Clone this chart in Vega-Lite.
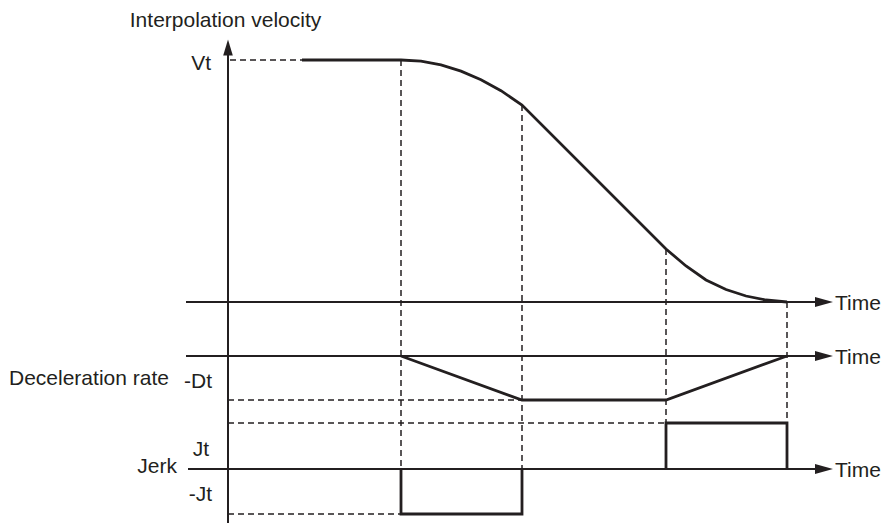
{
  "$schema": "https://vega.github.io/schema/vega-lite/v6.json",
  "width": 881,
  "height": 524,
  "padding": 0,
  "autosize": {"type": "fit", "contains": "padding"},
  "background": "white",
  "config": {"view": {"stroke": null}},
  "datasets": {
    "guides": [
      {"x": 230, "y": 60, "x2": 302, "y2": 60},
      {"x": 401, "y": 60, "x2": 401, "y2": 469},
      {"x": 522, "y": 105, "x2": 522, "y2": 469},
      {"x": 666, "y": 249, "x2": 666, "y2": 423},
      {"x": 787, "y": 302, "x2": 787, "y2": 423},
      {"x": 228, "y": 400, "x2": 522, "y2": 400},
      {"x": 228, "y": 423, "x2": 666, "y2": 423},
      {"x": 228, "y": 514, "x2": 401, "y2": 514}
    ],
    "axes": [
      {"x": 228, "y": 54, "x2": 228, "y2": 523},
      {"x": 186, "y": 302, "x2": 818, "y2": 302},
      {"x": 186, "y": 356, "x2": 818, "y2": 356},
      {"x": 188, "y": 469, "x2": 818, "y2": 469}
    ],
    "curves": [
      {"series": "velocity", "i": 0, "x": 302, "y": 60},
      {"series": "velocity", "i": 1, "x": 401, "y": 60},
      {"series": "velocity", "i": 2, "x": 421, "y": 61.2},
      {"series": "velocity", "i": 3, "x": 441, "y": 64.9},
      {"series": "velocity", "i": 4, "x": 461, "y": 71.1},
      {"series": "velocity", "i": 5, "x": 481, "y": 79.7},
      {"series": "velocity", "i": 6, "x": 501, "y": 90.7},
      {"series": "velocity", "i": 7, "x": 522, "y": 105},
      {"series": "velocity", "i": 8, "x": 666, "y": 249},
      {"series": "velocity", "i": 9, "x": 686, "y": 266},
      {"series": "velocity", "i": 10, "x": 706, "y": 280},
      {"series": "velocity", "i": 11, "x": 726, "y": 289.5},
      {"series": "velocity", "i": 12, "x": 746, "y": 296},
      {"series": "velocity", "i": 13, "x": 766, "y": 300},
      {"series": "velocity", "i": 14, "x": 787, "y": 302},
      {"series": "decel", "i": 0, "x": 401, "y": 356},
      {"series": "decel", "i": 1, "x": 522, "y": 400},
      {"series": "decel", "i": 2, "x": 666, "y": 400},
      {"series": "decel", "i": 3, "x": 787, "y": 356},
      {"series": "jerkNeg", "i": 0, "x": 401, "y": 469},
      {"series": "jerkNeg", "i": 1, "x": 401, "y": 514},
      {"series": "jerkNeg", "i": 2, "x": 522, "y": 514},
      {"series": "jerkNeg", "i": 3, "x": 522, "y": 469},
      {"series": "jerkPos", "i": 0, "x": 666, "y": 469},
      {"series": "jerkPos", "i": 1, "x": 666, "y": 423},
      {"series": "jerkPos", "i": 2, "x": 787, "y": 423},
      {"series": "jerkPos", "i": 3, "x": 787, "y": 469}
    ],
    "arrowsRight": [
      {"x": 824, "y": 302},
      {"x": 824, "y": 356},
      {"x": 824, "y": 469}
    ],
    "arrowsUp": [
      {"x": 228, "y": 47.5}
    ],
    "labelsCenter": [
      {"text": "Interpolation velocity", "x": 225.5, "y": 27}
    ],
    "labelsRight": [
      {"text": "Vt", "x": 211, "y": 70},
      {"text": "-Dt", "x": 212, "y": 388},
      {"text": "Jt", "x": 209, "y": 456},
      {"text": "Jerk", "x": 177, "y": 473},
      {"text": "-Jt", "x": 212, "y": 501}
    ],
    "labelsLeft": [
      {"text": "Deceleration rate", "x": 9, "y": 385},
      {"text": "Time", "x": 835, "y": 309.5},
      {"text": "Time", "x": 835, "y": 363.5},
      {"text": "Time", "x": 835, "y": 476.5}
    ]
  },
  "encoding": {
    "x": {"field": "x", "type": "quantitative", "scale": {"domain": [0, 881], "nice": false, "zero": false}, "axis": null},
    "y": {"field": "y", "type": "quantitative", "scale": {"domain": [0, 524], "nice": false, "zero": false, "reverse": true}, "axis": null}
  },
  "layer": [
    {
      "data": {"name": "guides"},
      "mark": {"type": "rule", "color": "#231f20", "strokeWidth": 1.5, "strokeDash": [6, 4]},
      "encoding": {"x2": {"field": "x2"}, "y2": {"field": "y2"}}
    },
    {
      "data": {"name": "axes"},
      "mark": {"type": "rule", "color": "#231f20", "strokeWidth": 2},
      "encoding": {"x2": {"field": "x2"}, "y2": {"field": "y2"}}
    },
    {
      "data": {"name": "curves"},
      "mark": {"type": "line", "color": "#231f20", "strokeWidth": 2.8, "strokeJoin": "miter", "strokeCap": "butt"},
      "encoding": {"detail": {"field": "series"}, "order": {"field": "i", "type": "quantitative"}}
    },
    {
      "data": {"name": "arrowsRight"},
      "mark": {"type": "point", "shape": "M-1,-0.55L1,0L-1,0.55Z", "size": 324, "filled": true, "color": "#231f20", "opacity": 1, "strokeWidth": 0}
    },
    {
      "data": {"name": "arrowsUp"},
      "mark": {"type": "point", "shape": "M-0.6,1L0,-1L0.6,1Z", "size": 256, "filled": true, "color": "#231f20", "opacity": 1, "strokeWidth": 0}
    },
    {
      "data": {"name": "labelsCenter"},
      "mark": {"type": "text", "font": "Liberation Sans", "fontSize": 21, "color": "#231f20", "align": "center", "baseline": "alphabetic"},
      "encoding": {"text": {"field": "text"}}
    },
    {
      "data": {"name": "labelsRight"},
      "mark": {"type": "text", "font": "Liberation Sans", "fontSize": 21, "color": "#231f20", "align": "right", "baseline": "alphabetic"},
      "encoding": {"text": {"field": "text"}}
    },
    {
      "data": {"name": "labelsLeft"},
      "mark": {"type": "text", "font": "Liberation Sans", "fontSize": 21, "color": "#231f20", "align": "left", "baseline": "alphabetic"},
      "encoding": {"text": {"field": "text"}}
    }
  ]
}
